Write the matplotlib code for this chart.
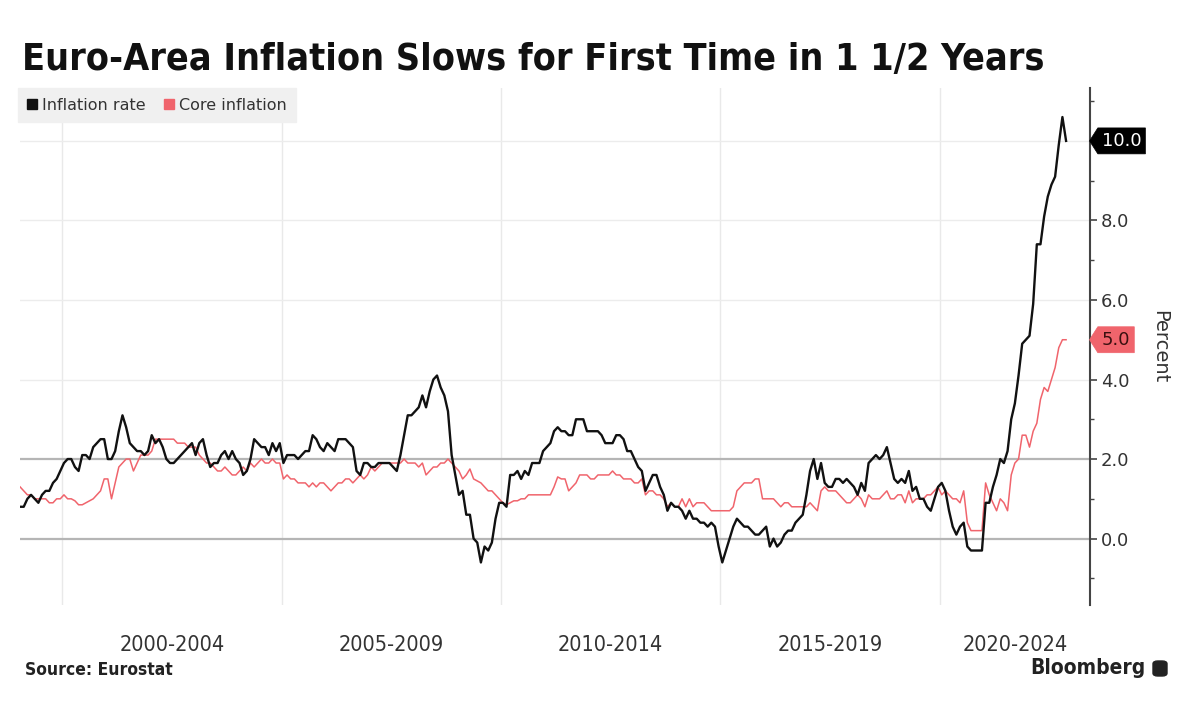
import numpy as np
import matplotlib
matplotlib.use("Agg")
import matplotlib.pyplot as plt
from matplotlib.path import Path
from matplotlib.lines import Line2D
from matplotlib.patches import FancyBboxPatch

# ---------------- data (monthly, Jan 1999 .. Nov 2022) ----------------
start_year = 1999
headline = [
    0.8, 0.8, 1.0, 1.1, 1.0, 0.9, 1.1, 1.2, 1.2, 1.4, 1.5, 1.7,   # 1999
    1.9, 2.0, 2.0, 1.8, 1.7, 2.1, 2.1, 2.0, 2.3, 2.4, 2.5, 2.5,   # 2000
    2.0, 2.0, 2.2, 2.7, 3.1, 2.8, 2.4, 2.3, 2.2, 2.2, 2.1, 2.2,   # 2001
    2.6, 2.4, 2.5, 2.3, 2.0, 1.9, 1.9, 2.0, 2.1, 2.2, 2.3, 2.4,   # 2002
    2.1, 2.4, 2.5, 2.1, 1.8, 1.9, 1.9, 2.1, 2.2, 2.0, 2.2, 2.0,   # 2003
    1.9, 1.6, 1.7, 2.0, 2.5, 2.4, 2.3, 2.3, 2.1, 2.4, 2.2, 2.4,   # 2004
    1.9, 2.1, 2.1, 2.1, 2.0, 2.1, 2.2, 2.2, 2.6, 2.5, 2.3, 2.2,   # 2005
    2.4, 2.3, 2.2, 2.5, 2.5, 2.5, 2.4, 2.3, 1.7, 1.6, 1.9, 1.9,   # 2006
    1.8, 1.8, 1.9, 1.9, 1.9, 1.9, 1.8, 1.7, 2.1, 2.6, 3.1, 3.1,   # 2007
    3.2, 3.3, 3.6, 3.3, 3.7, 4.0, 4.1, 3.8, 3.6, 3.2, 2.1, 1.6,   # 2008
    1.1, 1.2, 0.6, 0.6, 0.0, -0.1, -0.6, -0.2, -0.3, -0.1, 0.5, 0.9,  # 2009
    0.9, 0.8, 1.6, 1.6, 1.7, 1.5, 1.7, 1.6, 1.9, 1.9, 1.9, 2.2,   # 2010
    2.3, 2.4, 2.7, 2.8, 2.7, 2.7, 2.6, 2.6, 3.0, 3.0, 3.0, 2.7,   # 2011
    2.7, 2.7, 2.7, 2.6, 2.4, 2.4, 2.4, 2.6, 2.6, 2.5, 2.2, 2.2,   # 2012
    2.0, 1.8, 1.7, 1.2, 1.4, 1.6, 1.6, 1.3, 1.1, 0.7, 0.9, 0.8,   # 2013
    0.8, 0.7, 0.5, 0.7, 0.5, 0.5, 0.4, 0.4, 0.3, 0.4, 0.3, -0.2,  # 2014
    -0.6, -0.3, 0.0, 0.3, 0.5, 0.4, 0.3, 0.3, 0.2, 0.1, 0.1, 0.2, # 2015
    0.3, -0.2, 0.0, -0.2, -0.1, 0.1, 0.2, 0.2, 0.4, 0.5, 0.6, 1.1,  # 2016
    1.7, 2.0, 1.5, 1.9, 1.4, 1.3, 1.3, 1.5, 1.5, 1.4, 1.5, 1.4,   # 2017
    1.3, 1.1, 1.4, 1.2, 1.9, 2.0, 2.1, 2.0, 2.1, 2.3, 1.9, 1.5,   # 2018
    1.4, 1.5, 1.4, 1.7, 1.2, 1.3, 1.0, 1.0, 0.8, 0.7, 1.0, 1.3,   # 2019
    1.4, 1.2, 0.7, 0.3, 0.1, 0.3, 0.4, -0.2, -0.3, -0.3, -0.3, -0.3,  # 2020
    0.9, 0.9, 1.3, 1.6, 2.0, 1.9, 2.2, 3.0, 3.4, 4.1, 4.9, 5.0,   # 2021
    5.1, 5.9, 7.4, 7.4, 8.1, 8.6, 8.9, 9.1, 9.9, 10.6, 10.0,      # 2022
]
core = [
    1.3, 1.2, 1.1, 1.1, 1.0, 1.0, 1.0, 1.0, 0.9, 0.9, 1.0, 1.0,   # 1999
    1.1, 1.0, 1.0, 0.95, 0.85, 0.85, 0.9, 0.95, 1.0, 1.1, 1.2, 1.5,  # 2000
    1.5, 1.0, 1.4, 1.8, 1.9, 2.0, 2.0, 1.7, 1.9, 2.1, 2.1, 2.1,   # 2001
    2.2, 2.5, 2.5, 2.5, 2.5, 2.5, 2.5, 2.4, 2.4, 2.4, 2.3, 2.3,   # 2002
    2.3, 2.1, 2.0, 1.9, 1.9, 1.8, 1.7, 1.7, 1.8, 1.7, 1.6, 1.6,   # 2003
    1.7, 1.8, 1.7, 1.9, 1.8, 1.9, 2.0, 1.9, 1.9, 2.0, 1.9, 1.9,   # 2004
    1.5, 1.6, 1.5, 1.5, 1.4, 1.4, 1.4, 1.3, 1.4, 1.3, 1.4, 1.4,   # 2005
    1.3, 1.2, 1.3, 1.4, 1.4, 1.5, 1.5, 1.4, 1.5, 1.6, 1.5, 1.6,   # 2006
    1.8, 1.7, 1.8, 1.9, 1.9, 1.9, 1.9, 1.9, 1.9, 2.0, 1.9, 1.9,   # 2007
    1.9, 1.8, 1.9, 1.6, 1.7, 1.8, 1.8, 1.9, 1.9, 2.0, 1.9, 1.8,   # 2008
    1.7, 1.5, 1.6, 1.75, 1.5, 1.45, 1.4, 1.3, 1.2, 1.2, 1.1, 1.0,  # 2009
    0.9, 0.85, 0.9, 0.95, 0.95, 1.0, 1.0, 1.1, 1.1, 1.1, 1.1, 1.1,  # 2010
    1.1, 1.1, 1.3, 1.55, 1.5, 1.5, 1.2, 1.3, 1.4, 1.6, 1.6, 1.6,  # 2011
    1.5, 1.5, 1.6, 1.6, 1.6, 1.6, 1.7, 1.6, 1.6, 1.5, 1.5, 1.5,   # 2012
    1.4, 1.4, 1.5, 1.1, 1.2, 1.2, 1.1, 1.1, 1.0, 0.8, 0.9, 0.8,   # 2013
    0.8, 1.0, 0.8, 1.0, 0.8, 0.9, 0.9, 0.9, 0.8, 0.7, 0.7, 0.7,   # 2014
    0.7, 0.7, 0.7, 0.8, 1.2, 1.3, 1.4, 1.4, 1.4, 1.5, 1.5, 1.0,   # 2015
    1.0, 1.0, 1.0, 0.9, 0.8, 0.9, 0.9, 0.8, 0.8, 0.8, 0.8, 0.8,   # 2016
    0.9, 0.8, 0.7, 1.2, 1.3, 1.2, 1.2, 1.2, 1.1, 1.0, 0.9, 0.9,   # 2017
    1.0, 1.1, 1.0, 0.8, 1.1, 1.0, 1.0, 1.0, 1.1, 1.2, 1.0, 1.0,   # 2018
    1.1, 1.1, 0.9, 1.2, 0.9, 1.0, 1.0, 1.0, 1.1, 1.1, 1.2, 1.3,   # 2019
    1.1, 1.2, 1.1, 1.0, 1.0, 0.9, 1.2, 0.4, 0.2, 0.2, 0.2, 0.2,   # 2020
    1.4, 1.1, 0.9, 0.7, 1.0, 0.9, 0.7, 1.6, 1.9, 2.0, 2.6, 2.6,   # 2021
    2.3, 2.7, 2.9, 3.5, 3.8, 3.7, 4.0, 4.3, 4.8, 5.0, 5.0,        # 2022
]
period_labels = ["2000-2004", "2005-2009", "2010-2014", "2015-2019", "2020-2024"]
period_starts = [2000, 2005, 2010, 2015, 2020]
yticks = [0, 2, 4, 6, 8, 10]
series_names = ["Inflation rate", "Core inflation"]
last_headline_label = "10.0"
last_core_label = "5.0"

# ---------------- styling ----------------
BLACK = "#111111"
RED = "#f0646c"
W, H = 1200, 708
fig = plt.figure(figsize=(W / 100, H / 100), dpi=100)
fig.patch.set_facecolor("white")

def fx(px):
    return px / W

def fy(py):
    return 1 - py / H

ax = fig.add_axes([fx(20), fy(605), fx(1090) - fx(20), fy(88) - fy(605)])
n = len(headline)
xs = start_year + (np.arange(n) + 0.5) / 12.0

x_left, x_right = 1999.04, 2023.42
ax.set_xlim(x_left, x_right)
ax.set_ylim(-1.67, 11.33)

# grid
for xv in period_starts:
    ax.axvline(xv, color="#e9e9e9", lw=1.0, zorder=0)
for yv in yticks:
    if yv in (0, 2):
        ax.axhline(yv, color="#b5b5b5", lw=1.6, zorder=0.5)
    else:
        ax.axhline(yv, color="#ececec", lw=1.0, zorder=0.5)

ax.plot(xs, core, color=RED, lw=1.1, zorder=3)
ax.plot(xs, headline, color=BLACK, lw=1.7, zorder=4)

# spines
for s in ("top", "left", "bottom"):
    ax.spines[s].set_visible(False)
ax.spines["right"].set_color("#444444")
ax.spines["right"].set_linewidth(1.5)

ax.set_xticks([])
ax.yaxis.tick_right()
ax.set_yticks(yticks)
ax.set_yticklabels([f"{v:.1f}" for v in yticks])
ax.set_yticks([-1, 1, 3, 5, 7, 9, 11], minor=True)
ax.tick_params(axis="y", which="major", length=5, width=1.2, color="#444444",
               labelsize=13, labelcolor="#333333", pad=3)
ax.tick_params(axis="y", which="minor", length=3, width=1.0, color="#444444")

# period labels
for i, lab in enumerate(period_labels):
    a = period_starts[i]
    b = period_starts[i + 1] if i + 1 < len(period_starts) else x_right
    ax.text((a + b) / 2, -0.078, lab, transform=ax.get_xaxis_transform(),
            ha="center", va="center", fontsize=15.5, color="#333333",
            fontstretch="condensed")

# value tags
def tag_box(x0, y0, width, height, mutation_size):
    pad = 0.22 * mutation_size
    x0 -= pad
    y0 -= pad
    w = width + 2 * pad
    h = height + 2 * pad
    tip = 0.32 * h
    verts = [(x0 - tip, y0 + h / 2), (x0, y0 + h), (x0 + w, y0 + h),
             (x0 + w, y0), (x0, y0), (x0 - tip, y0 + h / 2)]
    return Path(verts, closed=True)

ax.annotate(last_headline_label, xy=(1, headline[-1]), xycoords=("axes fraction", "data"),
            xytext=(8.5, 0), textcoords="offset points", ha="left", va="center",
            fontsize=13, color="white", zorder=10, annotation_clip=False,
            bbox=dict(boxstyle=tag_box, fc="#000000", ec="#000000", lw=0.5))
ax.annotate(last_core_label, xy=(1, core[-1]), xycoords=("axes fraction", "data"),
            xytext=(8.5, 0), textcoords="offset points", ha="left", va="center",
            fontsize=13, color="#3a1010", zorder=10, annotation_clip=False,
            bbox=dict(boxstyle=tag_box, fc=RED, ec=RED, lw=0.5))

# legend
handles = [Line2D([], [], ls="none", marker="s", ms=7.5, color=BLACK),
           Line2D([], [], ls="none", marker="s", ms=7.5, color=RED)]
leg = ax.legend(handles, series_names, loc="upper left", bbox_to_anchor=(-0.002, 1.0),
                borderaxespad=0, ncol=2, frameon=True, fontsize=11.5,
                handlelength=0.6, handletextpad=0.3, columnspacing=1.2,
                borderpad=0.6, fancybox=False)
leg.get_frame().set_facecolor("#f0f0f0")
leg.get_frame().set_edgecolor("#f0f0f0")
leg.get_frame().set_alpha(1)
for t in leg.get_texts():
    t.set_color("#333333")

# texts
fig.text(fx(22), fy(60), "Euro-Area Inflation Slows for First Time in 1 1/2 Years",
         ha="left", va="center", fontsize=27, fontweight="bold", color="#111111",
         fontstretch="condensed")
fig.text(fx(1160), fy(347), "Percent", rotation=270, ha="center", va="center",
         fontsize=14, color="#333333")
fig.text(fx(25), fy(670), "Source: Eurostat", ha="left", va="center",
         fontsize=12.5, fontweight="bold", color="#222222", fontstretch="condensed")
fig.text(fx(1146), fy(668), "Bloomberg", ha="right", va="center",
         fontsize=15, fontweight="bold", color="#222222", fontstretch="condensed")
logo = FancyBboxPatch((fx(1153), fy(676)), fx(14), 15 / H,
                      boxstyle="round,pad=0.0,rounding_size=0.004",
                      transform=fig.transFigure, fc="#222222", ec="#222222")
fig.patches.append(logo)

fig.savefig("out.png", dpi=100, facecolor="white")
